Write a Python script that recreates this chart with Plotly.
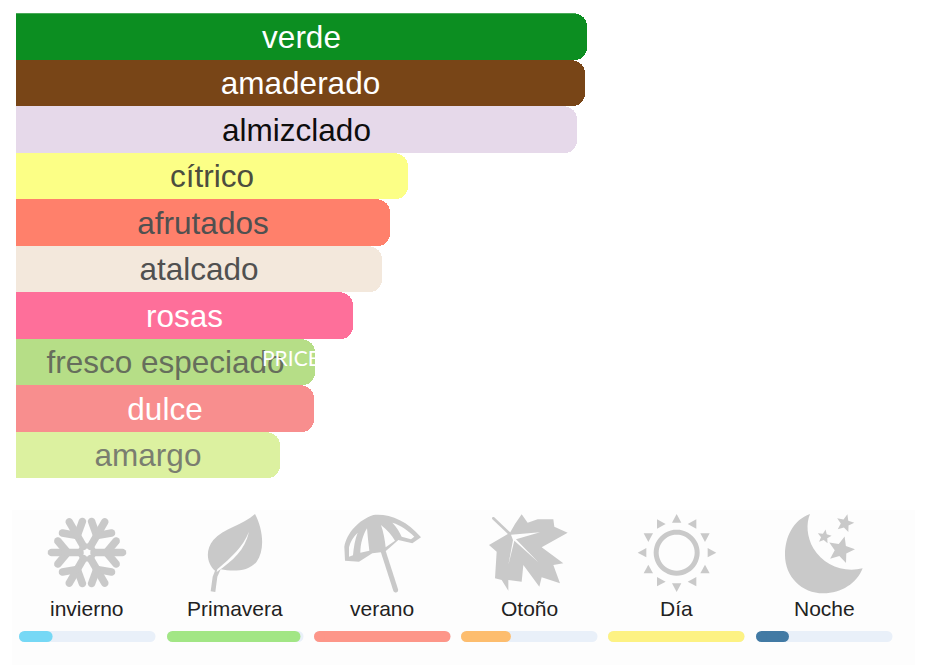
#!/usr/bin/env python3
"""Fragrance notes bars with the season and day/night meters below."""

import re
import numpy as np
import plotly.graph_objects as go

W, H = 937, 668

# main bars
notes = ['verde', 'amaderado', 'almizclado', 'cítrico', 'afrutados',
         'atalcado', 'rosas', 'fresco especiado', 'dulce', 'amargo']
note_values = [100, 99.6, 98.2, 68.6, 65.5, 64.1, 59.0, 52.4, 52.2, 46.3]
note_colors = ['#0c8e21', '#784517', '#e6d9ea', '#fcff86', '#ff806b',
               '#f3e8dc', '#fe6f9a', '#b6de87', '#f88e8e', '#dcf1a0']
note_text_colors = ['#ffffff', '#ffffff', '#0d0d0d', '#4c4d3e', '#505050',
                    '#505050', '#ffffff', '#666e5c', '#ffffff', '#7a7e70']

# meters
seasons = ['invierno', 'Primavera', 'verano', 'Otoño', 'Día', 'Noche']
season_values = [18, 97.6, 100, 31, 100, 17.5]
season_colors = ['#76d8f5', '#a2e685', '#fd9689', '#fdbd6e', '#fdf283', '#427aa4']
meter_left = [19, 167, 314, 461, 608, 756]

METER_W = 136.5
METER_H = 11
ICON = '#c9c9c9'
PANEL = '#fdfdfd'


def to_paper(path, ox=0, oy=0, scale=1 / 3):
    """Turn a path written in crop pixels into paper coordinates."""
    out = []
    for cmd, args in re.findall(r'([MLCZ])([^MLCZ]*)', path):
        nums = [float(n) for n in args.split()]
        pairs = []
        for x, y in zip(nums[0::2], nums[1::2]):
            px = ox + x * scale
            py = oy + y * scale
            pairs.append(f'{px / W:.5f},{1 - py / H:.5f}')
        out.append(cmd + ' '.join(pairs))
    return ' '.join(out)


def poly(points):
    pts = [f'{x:.2f} {y:.2f}' for x, y in points]
    return 'M' + ' L'.join(pts) + ' Z'


def circle(cx, cy, r, n=48):
    t = np.linspace(0, 2 * np.pi, n, endpoint=False)
    return poly(zip(cx + r * np.cos(t), cy + r * np.sin(t)))


def capsule(x0, y0, x1, y1, w, n=10):
    ang = np.arctan2(y1 - y0, x1 - x0)
    a = np.linspace(ang + np.pi / 2, ang + 3 * np.pi / 2, n)
    b = np.linspace(ang - np.pi / 2, ang + np.pi / 2, n)
    r = w / 2
    pts = list(zip(x0 + r * np.cos(a), y0 + r * np.sin(a)))
    pts += list(zip(x1 + r * np.cos(b), y1 + r * np.sin(b)))
    return poly(pts)


def star(cx, cy, r, rot):
    t = np.radians(rot) + np.arange(10) * np.pi / 5
    rad = np.where(np.arange(10) % 2 == 0, r, r * 0.45)
    return poly(zip(cx + rad * np.sin(t), cy - rad * np.cos(t)))


shapes = []


def add(path, ox=0, oy=0, color=ICON, scale=1 / 3):
    shapes.append(dict(type='path', xref='paper', yref='paper',
                       path=to_paper(path, ox, oy, scale), fillcolor=color,
                       line_width=0, fillrule='evenodd', layer='above'))


shapes.append(dict(type='rect', xref='paper', yref='paper', layer='below',
                   x0=12 / W, x1=915 / W, y0=1 - 665 / H, y1=1 - 510 / H,
                   fillcolor=PANEL, line_width=0))

# snowflake, drawn in screen pixels
cx, cy, R = 87, 552.5, 39
for deg in range(0, 360, 60):
    a = np.radians(deg)
    ux, uy = np.cos(a), np.sin(a)
    add(capsule(cx + 7 * ux, cy + 7 * uy, cx + (R - 3.5) * ux, cy + (R - 3.5) * uy, 7.5), scale=1)
    mx, my = cx + 0.5 * R * ux, cy + 0.5 * R * uy
    for off in (-50, 50):
        b = a + np.radians(off)
        add(capsule(mx, my, mx + 15 * np.cos(b), my + 15 * np.sin(b), 7.5), scale=1)
t = np.radians(np.arange(0, 360, 60))
add(poly(zip(cx + 10.5 * np.cos(t), cy + 10.5 * np.sin(t))) + ' '
    + poly(zip(cx + 5 * np.cos(t), cy + 5 * np.sin(t))), scale=1)

# leaf
add('M165 12 C190 60 195 120 170 155 C145 185 100 185 62 178 L52 200 L46 246 L32 244 '
    'L38 200 L45 182 C20 160 15 120 40 90 C70 55 130 45 165 12 Z', 200, 510)
add('M147 65 C128 112 95 140 52 178 L50 186 C100 150 135 120 147 65 Z', 200, 510, PANEL)

# umbrella
add('M30 152 L28 110 C35 70 70 30 115 15 C160 10 215 30 258 82 L232 100 L190 90 L150 125 '
    'L112 130 L72 155 Z', 335, 510)
add(capsule(145, 125, 182, 240, 15), 335, 510)
add('M42 140 L42 112 C46 95 55 80 68 68 C60 88 56 112 54 136 Z', 335, 510, PANEL)
add('M76 128 C76 100 84 75 96 55 C98 78 100 100 103 122 Z', 335, 510, PANEL)
add('M138 45 C158 60 172 78 180 92 L152 112 C150 90 145 65 138 45 Z', 335, 510, PANEL)
add('M172 38 C198 46 220 62 238 80 L228 88 L200 80 C194 66 184 50 172 38 Z', 335, 510, PANEL)

# maple leaf
add(poly([(110, 13), (128, 38), (158, 28), (205, 28), (208, 50), (248, 68), (170, 112), (235, 160),
          (205, 165), (225, 220), (170, 202), (163, 230), (115, 165), (110, 215), (70, 210),
          (70, 242), (50, 210), (30, 205), (35, 125), (12, 105), (75, 68), (90, 42)]), 485, 510)
add(capsule(25, 25, 78, 75, 8), 485, 510)
add(poly([(78, 74), (165, 67), (93, 88), (160, 157), (88, 92), (70, 165), (84, 90)]), 485, 510, PANEL)

# sun
add(circle(125, 128, 69) + ' ' + circle(125, 128, 54), 635, 510)
for tx, ty, dx, dy in [(125, 26, 0, -1), (125, 232, 0, 1), (22, 128, -1, 0), (230, 128, 1, 0),
                       (78, 42, 1, 0), (172, 42, -1, 0), (78, 215, 1, 0), (172, 215, -1, 0),
                       (40, 82, 0, 1), (210, 82, 0, 1), (40, 178, 0, -1), (210, 178, 0, -1)]:
    add(poly([(tx + 14 * dx, ty + 14 * dy),
              (tx - 12 * dx - 14 * dy, ty - 12 * dy - 14 * dx),
              (tx - 12 * dx + 14 * dy, ty - 12 * dy + 14 * dx)]), 635, 510)

# moon
add('M90 12 C40 30 15 80 15 135 C15 200 65 250 130 250 C185 250 230 220 248 175 '
    'C190 190 130 165 100 115 C80 80 78 40 90 12 Z', 780, 510)
add(star(195, 40, 28, 15), 780, 510)
add(star(133, 80, 22, 10), 780, 510)
add(star(183, 120, 42, 15), 780, 510)

fig = go.Figure()

fig.add_trace(go.Bar(
    x=note_values,
    y=notes,
    orientation='h',
    marker=dict(color=note_colors, line_width=0, cornerradius=13),
    text=notes,
    textposition='inside',
    insidetextanchor='middle',
    textangle=0,
    constraintext='none',
    insidetextfont=dict(color=note_text_colors, size=31.5, family='Liberation Sans'),
    hoverinfo='x+y',
    xaxis='x',
    yaxis='y',
))

annotations = [dict(
    text='PRICE', xref='paper', yref='paper', x=260 / W, y=1 - 357 / H,
    xanchor='left', yanchor='middle', showarrow=False,
    font=dict(color='#ffffff', size=21, family='Lato'),
)]

axes = {}
pad = (METER_H / 2) * 100 / (METER_W - METER_H)
for i, season in enumerate(seasons):
    n = i + 2
    for xs, color in (([0, 100], '#e9f0f9'), ([0, season_values[i]], season_colors[i])):
        fig.add_trace(go.Scatter(
            x=xs, y=[0, 0], mode='lines+markers',
            line=dict(color=color, width=METER_H),
            marker=dict(color=color, size=METER_H, line_width=0),
            cliponaxis=False, hoverinfo='skip',
            xaxis=f'x{n}', yaxis='y2',
        ))
    axes[f'xaxis{n}'] = dict(
        domain=[meter_left[i] / W, (meter_left[i] + METER_W) / W],
        range=[-pad, 100 + pad], visible=False, anchor='y2',
    )
    annotations.append(dict(
        text=season, xref=f'x{n}', yref='paper', x=50, y=1 - 608 / H,
        xanchor='center', yanchor='middle', showarrow=False,
        font=dict(color='#222222', size=21, family='Liberation Sans'),
    ))

fig.update_layout(
    width=W,
    height=H,
    margin=dict(l=0, r=0, t=0, b=0),
    paper_bgcolor='#ffffff',
    plot_bgcolor='rgba(0,0,0,0)',
    showlegend=False,
    bargap=0,
    xaxis=dict(domain=[16 / W, 587 / W], range=[0, 100], visible=False),
    yaxis=dict(domain=[1 - 478.7 / H, 1 - 13.3 / H], autorange='reversed', visible=False),
    yaxis2=dict(domain=[1 - 650 / H, 1 - 623 / H], range=[-1, 1], visible=False),
    shapes=shapes,
    annotations=annotations,
    **axes,
)

fig.write_html('out.html', post_script="document.body.style.margin='0';",
               config={'displayModeBar': False})
